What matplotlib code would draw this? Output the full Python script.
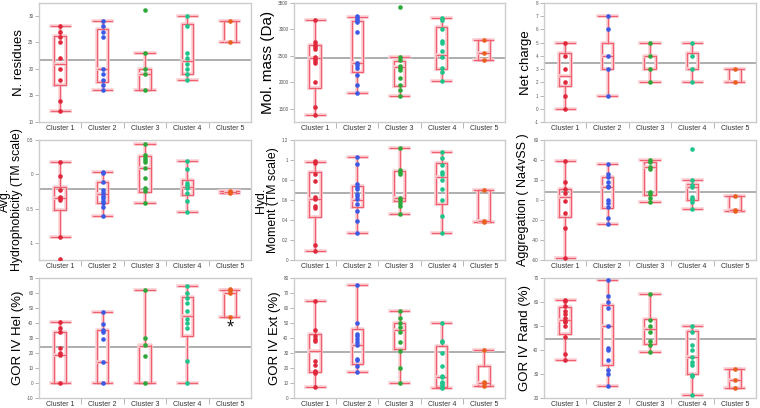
import matplotlib
matplotlib.use("Agg")
import matplotlib.pyplot as plt
from matplotlib.ticker import FixedLocator, FuncFormatter

plt.rcParams["font.family"] = ["Liberation Sans", "DejaVu Sans"]
plt.rcParams["axes.unicode_minus"] = False

clusters = ["Cluster 1", "Cluster 2", "Cluster 3", "Cluster 4", "Cluster 5"]
point_colors = ["#e0283c", "#3c5ae6", "#2ea83a", "#1ec48a", "#e8601e"]

# points per cluster, box stats per cluster as (q1, median, q3, whisker low, whisker high)
nres_pts = [[28, 27, 26, 25, 22, 20, 18, 14, 12],
            [29, 28, 27, 26, 20, 19, 18, 17, 16],
            [31, 23, 20, 19, 16],
            [30, 28, 23, 22, 21, 20, 19, 18],
            [29, 25]]
nres_box = [(17, 21, 26.2, 12, 28), (17.5, 20, 27.5, 16, 29), (16, 19, 20, 16, 23),
            (19, 21.4, 28.5, 18, 30), (25, 25, 29, 25, 29)]
nres_mean = 21.7

mass_pts = [[3175, 2756, 2712, 2675, 2631, 2487, 2444, 2406, 2369, 2006, 1531, 1381],
            [3262, 3225, 3181, 3137, 2944, 2375, 2331, 2275, 2131, 1950, 1806],
            [3425, 2475, 2425, 2312, 2275, 2237, 2081, 1950, 1850, 1737],
            [3225, 3181, 3000, 2787, 2737, 2600, 2475, 2275, 2188, 2031],
            [2806, 2562, 2419]]
mass_box = [(1888, 2456, 2712, 1381, 3175), (2188, 2362, 3156, 1806, 3244),
            (1937, 2281, 2406, 1737, 2475), (2250, 2512, 3037, 2031, 3225),
            (2419, 2550, 2806, 2419, 2806)]
mass_mean = 2456

charge_pts = [[5, 4, 3, 2, 1, 0], [7, 6, 4, 3, 1], [5, 4, 3, 2], [5, 4, 3, 2], [3, 2]]
charge_box = [(1.75, 2.45, 4.25, 0, 5), (3, 4, 5, 1, 7), (3, 4, 4, 2, 5),
              (3, 3, 4.25, 2, 5), (2, 2, 3, 2, 3)]
charge_mean = 3.43

hydro_pts = [[0.176, -0.02, -0.234, -0.327, -0.35, -0.376, -0.92, -1.234],
             [0.03, 0.015, -0.107, -0.228, -0.28, -0.31, -0.35, -0.39, -0.42, -0.47, -0.607],
             [0.437, 0.281, 0.242, 0.208, 0.175, 0.096, -0.05, -0.195, -0.243, -0.42],
             [0.194, 0.073, -0.13, -0.155, -0.195, -0.277, -0.384, -0.549],
             [-0.24, -0.26, -0.28]]
hydro_box = [(-0.52, -0.35, -0.185, -0.92, 0.176), (-0.42, -0.29, -0.117, -0.607, 0.03),
             (-0.26, 0.096, 0.266, -0.42, 0.437), (-0.30, -0.18, -0.087, -0.549, 0.194),
             (-0.28, -0.26, -0.24, -0.28, -0.24)]
hydro_mean = -0.215

moment_pts = [[0.99, 0.973, 0.857, 0.79, 0.63, 0.61, 0.54, 0.523, 0.153, 0.093],
              [1.03, 0.957, 0.763, 0.733, 0.713, 0.657, 0.637, 0.607, 0.56, 0.493, 0.39, 0.273],
              [1.117, 0.897, 0.88, 0.86, 0.62, 0.597, 0.573, 0.543, 0.463],
              [1.077, 1.023, 0.947, 0.883, 0.863, 0.8, 0.713, 0.6, 0.44, 0.273],
              [0.705, 0.39, 0.38]]
moment_box = [(0.433, 0.613, 0.88, 0.093, 0.98), (0.53, 0.597, 0.74, 0.273, 1.03),
              (0.587, 0.617, 0.89, 0.463, 1.117), (0.56, 0.833, 0.967, 0.273, 1.077),
              (0.38, 0.39, 0.70, 0.38, 0.70)]
moment_mean = 0.673

aggr_pts = [[38.7, 17.5, 10.8, 6.7, -0.7, -13.5, -28.3, -57.6],
            [36, 25.9, 22.6, 17.8, 14.1, 12.5, 0.3, -3, -7.4, -18.5, -23.9],
            [40, 38, 32.8, 31.3, 8.1, 5.7, 2.4, -2],
            [51, 20.2, 14.8, 13.1, 3, 1.3, -1.7, -8.8],
            [4.4, -10.1, -11.1]]
aggr_box = [(-17.5, 2.7, 11.4, -57.6, 38.7), (-7.7, 12.5, 22.6, -23.9, 36),
            (4.7, 33, 37.7, -2, 40), (-0.3, 12.5, 15.8, -8.8, 20.2),
            (-11, -10.5, 4.4, -11, 4.4)]
aggr_mean = 8.4

hel_pts = [[40.9, 36.7, 33.8, 23.3, 20, 18.7, 0],
           [47.6, 39.6, 35.3, 33.8, 29.6, 14, 0],
           [61.8, 30.2, 25.3, 17.8, 0],
           [64.7, 60.2, 56.4, 53.3, 47.8, 42.7, 40.2, 36.7, 14.7, 0],
           [62.7, 61.8, 60.2, 44]]
hel_box = [(0, 18.9, 33.8, 0, 40.9), (0, 14, 35.3, 0, 47.6), (0, 25, 25.3, 0, 61.8),
           (31.1, 44.4, 57.3, 0, 64.7), (44, 60, 62, 44, 62)]
hel_mean = 24

ext_pts = [[64.7, 45.3, 41.3, 39.6, 38.2, 24.4, 21.8, 18.2, 17.3, 16.4, 7.6],
           [75.3, 50.2, 42.9, 41.1, 39.6, 37.6, 35.1, 26, 25.1, 21.6, 17.6],
           [58.2, 53.1, 50.2, 47.6, 44, 37.1, 31.6, 20.2, 10],
           [50.2, 38.2, 37.1, 30, 21.3, 14.7, 13.8, 10.9, 9.8, 8.7, 7.1, 6.7],
           [32.2, 10.9, 9.8, 8]]
ext_box = [(17.6, 31.1, 42.7, 7.6, 64.7), (22.9, 35.1, 46, 17.6, 75.3),
           (32.7, 45.6, 50, 10, 58.2), (7.3, 14, 34.9, 6.7, 50.2),
           (8, 9.8, 21.3, 8, 32.2)]
ext_mean = 30.4

rand_pts = [[61, 60.3, 58.5, 56.1, 55, 53.3, 52.2, 51.5, 50, 45.6, 38.3, 35.8],
            [69, 62.4, 60, 57.6, 50, 40.8, 40.1, 35.8, 31.5, 30, 25],
            [63.3, 52.6, 50.1, 47.4, 43.9, 42.2, 39],
            [50, 47.5, 42.2, 40, 36.9, 35, 33.9, 29.7, 29, 21.4],
            [32.1, 27.4, 24]]
rand_box = [(46.7, 52.4, 57.8, 35.8, 61), (33.6, 50, 58.75, 25, 69),
            (42.4, 48.75, 52.9, 39, 63.3), (30, 36.9, 47.8, 21.4, 50),
            (24, 27.4, 32.1, 24, 32.1)]
rand_mean = 44.7

panels = [
    ("N. residues", nres_pts, nres_box, nres_mean, (10, 32.4), [10, 15, 20, 25, 30]),
    ("Mol. mass (Da)", mass_pts, mass_box, mass_mean, (1250, 3500), [1500, 2000, 2500, 3000, 3500]),
    ("Net charge", charge_pts, charge_box, charge_mean, (-1, 8), list(range(-1, 9))),
    ("Avg.\nHydrophobicity (TM scale)", hydro_pts, hydro_box, hydro_mean, (-1.25, 0.5), [-1, -0.5, 0, 0.5]),
    ("Hyd.\nMoment (TM scale)", moment_pts, moment_box, moment_mean, (0, 1.2), [0, 0.2, 0.4, 0.6, 0.8, 1, 1.2]),
    ("Aggregation ( Na4vSS )", aggr_pts, aggr_box, aggr_mean, (-60, 60), [-60, -40, -20, 0, 20, 40, 60]),
    ("GOR IV Hel (%)", hel_pts, hel_box, hel_mean, (-10, 70), list(range(-10, 71, 10))),
    ("GOR IV Ext (%)", ext_pts, ext_box, ext_mean, (0, 80), list(range(0, 81, 10))),
    ("GOR IV Rand (%)", rand_pts, rand_box, rand_mean, (20, 70), list(range(20, 71, 10))),
]
label_sizes = [9.5, 11, 9.5, 8.8, 8.8, 9, 9.5, 9.5, 9.5]

W, H = 760, 408
col_left = [39, 294, 544]
col_width = [212, 211, 212]
row_top = [3, 140, 278]
row_bottom = [122, 260, 398]

fig = plt.figure(figsize=(W / 100, H / 100), dpi=100)

for i, (label, pts, box, mean, ylim, ticks) in enumerate(panels):
    r, c = divmod(i, 3)
    ax = fig.add_axes([col_left[c] / W, 1 - row_bottom[r] / H,
                       col_width[c] / W, (row_bottom[r] - row_top[r]) / H])
    x = list(range(1, len(clusters) + 1))
    stats = [dict(q1=b[0], med=b[1], q3=b[2], whislo=b[3], whishi=b[4], fliers=[])
             for b in box]
    # pale glow underneath, red line on top
    for lw, col in ((2.6, "#fbd0d6"), (0.9, "#f0606e")):
        p = dict(color=col, linewidth=lw)
        ax.bxp(stats, positions=x, widths=0.27, showfliers=False, capwidths=0.45,
               boxprops=p, whiskerprops=p, capprops=p, medianprops=p)
    ax.axhline(mean, color="#a8a8a8", lw=1.3, zorder=1)
    for xi, ys, col in zip(x, pts, point_colors):
        ax.plot([xi] * len(ys), ys, "o", color=col, ms=3.3, mew=0, zorder=5)

    ax.set_xlim(0.5, len(clusters) + 0.5)
    ax.set_ylim(*ylim)
    ax.yaxis.set_major_locator(FixedLocator(ticks))
    ax.yaxis.set_major_formatter(FuncFormatter(lambda v, _: f"{v:g}"))
    ax.tick_params(axis="y", labelsize=3.3, labelcolor="#555555", color="#aaaaaa",
                   length=3, width=0.6, pad=1)
    ax.set_xticks(x)
    ax.set_xticklabels(clusters)
    ax.tick_params(axis="x", labelsize=5.0, labelcolor="#333333", length=0, pad=2)
    ax.set_xticks([k + 0.5 for k in x[:-1]], minor=True)
    ax.tick_params(axis="x", which="minor", length=4, color="#aaaaaa", width=0.6)
    for s in ax.spines.values():
        s.set_color("#cccccc")
        s.set_linewidth(1.0)
    ax.set_ylabel(label, fontsize=label_sizes[i], labelpad=2, linespacing=1.0)

    if label.startswith("GOR IV Hel"):
        ax.text(5, 37, "*", ha="center", va="center", fontsize=13, color="#111111")

fig.savefig("out.png", dpi=100)
